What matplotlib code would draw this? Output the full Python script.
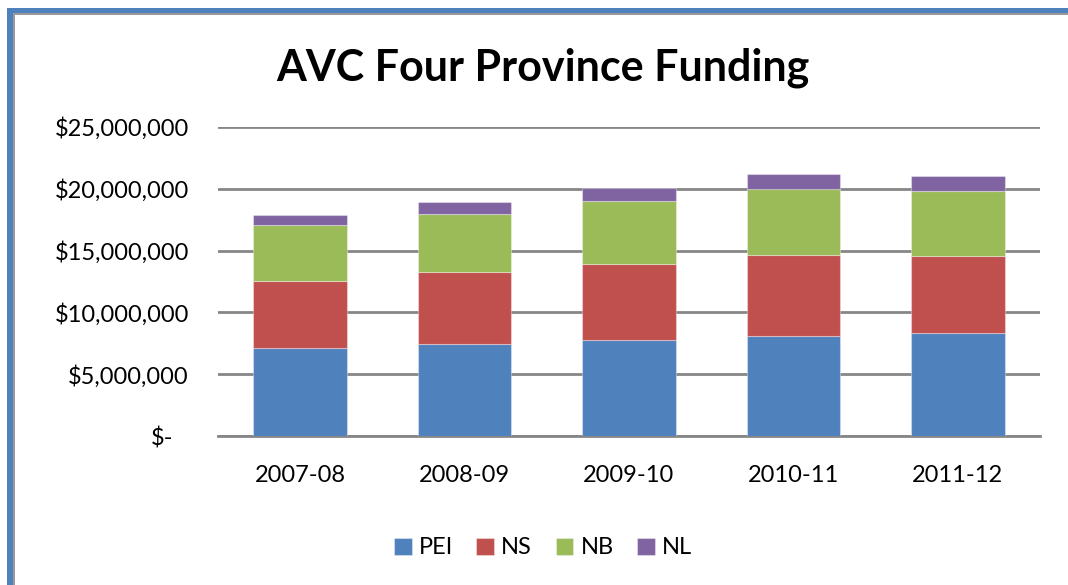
import matplotlib
matplotlib.use("Agg")
import matplotlib.pyplot as plt
from matplotlib.patches import Rectangle
from matplotlib.transforms import ScaledTranslation
import numpy as np

years = ["2007-08", "2008-09", "2009-10", "2010-11", "2011-12"]
pei = [7.10e6, 7.42e6, 7.74e6, 8.09e6, 8.33e6]
ns = [5.47e6, 5.82e6, 6.20e6, 6.53e6, 6.26e6]
nb = [4.53e6, 4.76e6, 5.04e6, 5.34e6, 5.23e6]
nl = [0.78e6, 0.90e6, 1.05e6, 1.24e6, 1.18e6]
series = [("PEI", pei, "#4F81BD"), ("NS", ns, "#C0504D"),
          ("NB", nb, "#9BBB59"), ("NL", nl, "#8064A2")]
yticks = [0, 5e6, 10e6, 15e6, 20e6, 25e6]
ytick_labels = ["$-", "$5,000,000", "$10,000,000", "$15,000,000", "$20,000,000", "$25,000,000"]

plt.rcParams['font.family'] = ['Lato', 'DejaVu Sans']

W, H = 1068, 585
fig = plt.figure(figsize=(W/100, H/100), dpi=100)
ax = fig.add_axes([218/W, 1-436/H, (1040-218)/W, (436-127)/H])

x = np.arange(len(years))
bottom = np.zeros(len(years))
handles = []
for name, vals, col in series:
    b = ax.bar(x, vals, width=0.57, bottom=bottom, color=col, label=name,
               edgecolor=(1, 1, 1, 0.35), linewidth=0.8, zorder=3)
    handles.append(b)
    bottom += np.array(vals)

ax.set_xlim(-0.5, len(years)-0.5)
ax.set_ylim(0, 25e6)
ax.set_yticks(yticks)
ax.set_yticklabels(ytick_labels, fontsize=17, color="#000000")
ax.set_xticks(x)
ax.set_xticklabels(years, fontsize=17, color="#000000")
ax.tick_params(axis='y', length=0, pad=21)
ax.tick_params(axis='x', length=0, pad=21)
ax.grid(axis='y', color="#868686", linewidth=2, zorder=0)
for s in ["top", "right", "left"]:
    ax.spines[s].set_visible(False)
ax.spines["bottom"].set_color("#868686")
ax.spines["bottom"].set_linewidth(2)

# shift "$-" label left like accounting format
lbl = ax.get_yticklabels()[0]
lbl.set_transform(lbl.get_transform() + ScaledTranslation(-0.15, 0, fig.dpi_scale_trans))

fig.text(543/W, 1-68/H, "AVC Four Province Funding", ha="center", va="center",
         fontsize=31, fontweight="bold")

fig.legend(handles=handles, loc="center", bbox_to_anchor=(543/W, 1-548/H), ncol=4,
           frameon=False, fontsize=17, handlelength=0.75, handleheight=0.75,
           handletextpad=0.3, columnspacing=1.0)

# border
fig.add_artist(Rectangle((7/W, 0), 6/W, 1-8/H, transform=fig.transFigure, color="#4F81BD", lw=0))
fig.add_artist(Rectangle((13/W, 0), 2/W, 1-13/H, transform=fig.transFigure, color="#9A9A9A", lw=0))
fig.add_artist(Rectangle((7/W, 1-13/H), 1-7/W, 5/H, transform=fig.transFigure, color="#4F81BD", lw=0))
fig.add_artist(Rectangle((13/W, 1-15/H), 1-13/W, 2/H, transform=fig.transFigure, color="#9A9A9A", lw=0))

fig.savefig("out.png", dpi=100)
